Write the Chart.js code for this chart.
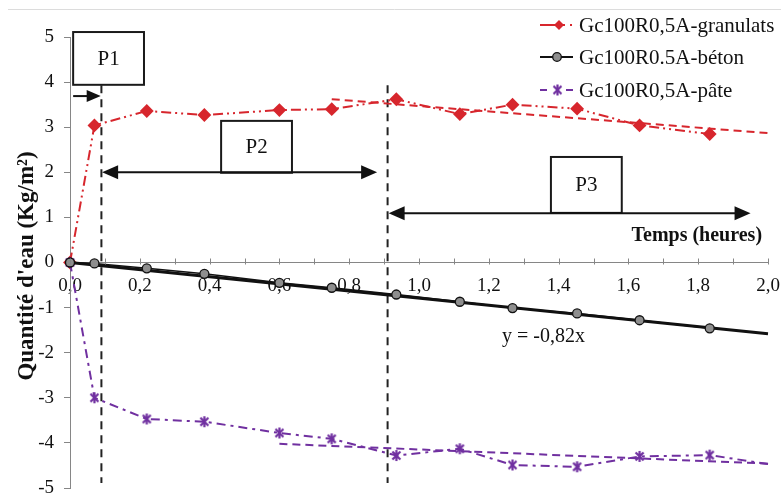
<!DOCTYPE html>
<html><head><meta charset="utf-8">
<script src="https://cdn.jsdelivr.net/npm/chart.js@4.4.1/dist/chart.umd.min.js"></script>
<style>html,body{margin:0;padding:0;background:#fff;}canvas{display:block;}</style>
</head><body>
<canvas id="c" width="781" height="502"></canvas>
<script>
// ---- data ----
const timeHours = [0, 0.07, 0.22, 0.385, 0.6, 0.75, 0.935, 1.117, 1.268, 1.453, 1.632, 1.833];
const granulats = [0, 3.04, 3.36, 3.27, 3.38, 3.40, 3.62, 3.29, 3.50, 3.41, 3.04, 2.85];
const beton     = [0, -0.02, -0.13, -0.25, -0.45, -0.56, -0.71, -0.87, -1.01, -1.13, -1.28, -1.46];
const pate      = [0, -3.00, -3.47, -3.53, -3.78, -3.91, -4.28, -4.13, -4.49, -4.53, -4.30, -4.27];
const pateEnd   = [2.0, -4.47];

const granulatsTrendX = [0.75, 2.0];
const granulatsTrendY = [3.62, 2.87];
const betonTrendX = [0, 2.0];
const betonTrendY = [0, -1.58];
const pateTrendX = [0.6, 2.0];
const pateTrendY = [-4.02, -4.46];

const seriesNames = ['Gc100R0,5A-granulats', 'Gc100R0.5A-béton', 'Gc100R0,5A-pâte'];
const xTickLabels = ['0,0','0,2','0,4','0,6','0,8','1,0','1,2','1,4','1,6','1,8','2,0'];
const yTickLabels = ['-5','-4','-3','-2','-1','0','1','2','3','4','5'];
const phaseBoundaries = [0.09, 0.91];
const phaseYRange = [3.93, -4.89];
const phaseNames = ['P1', 'P2', 'P3'];
const equationText = 'y = -0,82x';
const xTitle = 'Temps (heures)';
const yTitle = "Quantité d'eau (Kg/m²)";

// ---- styles / annotation placement (data units) ----
const RED = '#d7262d', PURPLE = '#7030a0', BLACK = '#111111', AXIS = '#868686';
const SERIF = "'Liberation Serif','Times New Roman',serif";
const TARGET_AREA = {left: 70, top: 37, right: 768, bottom: 488};
const annotationBoxes = [
  {x0: 0.009, x1: 0.212, y0: 5.11, y1: 3.94},
  {x0: 0.433, x1: 0.636, y0: 3.14, y1: 1.99},
  {x0: 1.378, x1: 1.581, y0: 2.34, y1: 1.10}
];
const annotationArrows = [
  {y: 3.69, x0: 0.009, x1: 0.088, both: false},
  {y: 2.0, x0: 0.092, x1: 0.88, both: true},
  {y: 1.09, x0: 0.913, x1: 1.95, both: true}
];

function makeStar(color) {
  const c = document.createElement('canvas');
  c.width = 13; c.height = 13;
  const g = c.getContext('2d');
  g.strokeStyle = color; g.lineWidth = 2.2;
  g.beginPath();
  g.moveTo(2.5, 2.5); g.lineTo(10.5, 10.5);
  g.moveTo(10.5, 2.5); g.lineTo(2.5, 10.5);
  g.moveTo(6.5, 1); g.lineTo(6.5, 12);
  g.stroke();
  return c;
}
const starImg = makeStar(PURPLE);

const pts = (xs, ys) => xs.map((x, i) => ({x: x, y: ys[i]}));

const datasets = [
  {label: seriesNames[0], data: pts(timeHours, granulats), borderColor: RED, backgroundColor: RED,
   borderWidth: 2, borderDash: [10,4,2,4,2,4], pointStyle: 'rectRot', pointRadius: 5.5, order: 4},
  {label: seriesNames[1], data: pts(timeHours, beton), borderColor: BLACK, backgroundColor: '#8e8e8e',
   borderWidth: 1.5, pointStyle: 'circle', pointRadius: 4.5, pointBorderWidth: 1.3, order: 1},
  {label: seriesNames[2], data: pts(timeHours.concat([pateEnd[0]]), pate.concat([pateEnd[1]])),
   borderColor: PURPLE, backgroundColor: PURPLE, borderWidth: 2, borderDash: [9,5,3,5],
   pointStyle: starImg, pointRadius: pate.map(() => 6).concat([0]), order: 3},
  {label: 'trend-g', data: pts(granulatsTrendX, granulatsTrendY), borderColor: RED, borderWidth: 2,
   borderDash: [8,5], pointRadius: 0, order: 5},
  {label: 'trend-b', data: pts(betonTrendX, betonTrendY), borderColor: BLACK, borderWidth: 3,
   pointRadius: 0, order: 2},
  {label: 'trend-p', data: pts(pateTrendX, pateTrendY), borderColor: PURPLE, borderWidth: 2,
   borderDash: [8,5], pointRadius: 0, order: 5},
  ...phaseBoundaries.map((bx, i) => ({label: 'phase' + i, data: pts([bx, bx], phaseYRange),
   borderColor: '#222', borderWidth: 2, borderDash: [8,6], pointRadius: 0, order: 6}))
].map(d => Object.assign({showLine: true, tension: 0, clip: false}, d));

function arrowHead(ctx, x, y, dir, len, half) {
  ctx.beginPath();
  ctx.moveTo(x, y);
  ctx.lineTo(x - dir * len, y - half);
  ctx.lineTo(x - dir * len, y + half);
  ctx.closePath();
  ctx.fill();
}

const decor = {
  id: 'decor',
  beforeDraw(chart) {
    const ctx = chart.ctx;
    ctx.save();
    ctx.fillStyle = '#fff';
    ctx.fillRect(0, 0, chart.width, chart.height);
    ctx.strokeStyle = '#dcdcdc'; ctx.lineWidth = 1;
    ctx.beginPath(); ctx.moveTo(8, 9.5); ctx.lineTo(chart.width, 9.5); ctx.stroke();
    ctx.restore();
  },
  afterDraw(chart) {
    const ctx = chart.ctx, xs = chart.scales.x, ys = chart.scales.y;
    ctx.save();
    // x tick marks (pointing up from the axis)
    const y0 = Math.round(ys.getPixelForValue(0)) + 0.5;
    ctx.strokeStyle = AXIS; ctx.lineWidth = 1;
    xs.ticks.forEach(t => {
      const px = Math.round(xs.getPixelForValue(t.value)) + 0.5;
      ctx.beginPath(); ctx.moveTo(px, y0 - 5); ctx.lineTo(px, y0 + 1); ctx.stroke();
    });
    // boxes
    ctx.lineWidth = 2; ctx.strokeStyle = '#1a1a1a';
    annotationBoxes.forEach((b, i) => {
      const l = xs.getPixelForValue(b.x0), r = xs.getPixelForValue(b.x1);
      const t = ys.getPixelForValue(b.y0), bt = ys.getPixelForValue(b.y1);
      ctx.fillStyle = '#fff';
      ctx.fillRect(l, t, r - l, bt - t);
      ctx.strokeRect(l, t, r - l, bt - t);
      ctx.fillStyle = '#111';
      ctx.font = '21px ' + SERIF;
      ctx.textAlign = 'center'; ctx.textBaseline = 'middle';
      ctx.fillText(phaseNames[i], (l + r) / 2, (t + bt) / 2 + 1);
    });
    // arrows
    ctx.fillStyle = '#111'; ctx.strokeStyle = '#111'; ctx.lineWidth = 2;
    annotationArrows.forEach((a, i) => {
      const l = xs.getPixelForValue(a.x0), r = xs.getPixelForValue(a.x1), y = ys.getPixelForValue(a.y);
      const len = i === 0 ? 14 : 16, half = i === 0 ? 6 : 7;
      ctx.beginPath();
      ctx.moveTo(a.both ? l + len - 2 : l, y);
      ctx.lineTo(r - len + 2, y);
      ctx.stroke();
      arrowHead(ctx, r, y, 1, len, half);
      if (a.both) arrowHead(ctx, l, y, -1, len, half);
    });
    // texts
    ctx.fillStyle = '#111';
    ctx.font = 'bold 20px ' + SERIF;
    ctx.textAlign = 'right'; ctx.textBaseline = 'middle';
    ctx.fillText(xTitle, xs.getPixelForValue(1.983), ys.getPixelForValue(0.6));
    ctx.font = '20px ' + SERIF;
    ctx.textAlign = 'left';
    ctx.fillText(equationText, xs.getPixelForValue(1.238), ys.getPixelForValue(-1.64));
    // y title
    ctx.save();
    ctx.translate(27, 266);
    ctx.rotate(-Math.PI / 2);
    ctx.font = 'bold 23px ' + SERIF;
    ctx.textAlign = 'center'; ctx.textBaseline = 'middle';
    ctx.fillText(yTitle, 0, 0);
    ctx.restore();
    // legend
    const rows = [25, 57, 90];
    ctx.font = '21px ' + SERIF; ctx.textAlign = 'left'; ctx.textBaseline = 'middle';
    seriesNames.forEach((n, i) => {
      const y = rows[i];
      ctx.lineWidth = 2;
      if (i === 0) {
        ctx.strokeStyle = RED; ctx.fillStyle = RED;
        ctx.beginPath(); ctx.moveTo(540, y); ctx.lineTo(565, y); ctx.stroke();
        ctx.beginPath(); ctx.moveTo(559, y - 5); ctx.lineTo(564, y); ctx.lineTo(559, y + 5); ctx.lineTo(554, y); ctx.closePath(); ctx.fill();
        ctx.fillRect(570, y - 1, 2, 2);
      } else if (i === 1) {
        ctx.strokeStyle = BLACK;
        ctx.beginPath(); ctx.moveTo(540, y); ctx.lineTo(573, y); ctx.stroke();
        ctx.fillStyle = '#8e8e8e'; ctx.lineWidth = 1.3;
        ctx.beginPath(); ctx.arc(557, y, 4.3, 0, Math.PI * 2); ctx.fill(); ctx.stroke();
      } else {
        ctx.strokeStyle = PURPLE;
        ctx.beginPath(); ctx.moveTo(540, y); ctx.lineTo(547, y); ctx.moveTo(566, y); ctx.lineTo(573, y); ctx.stroke();
        ctx.drawImage(starImg, 551, y - 6.5);
      }
      ctx.fillStyle = '#111';
      ctx.fillText(n, 579, y + 1);
    });
    ctx.restore();
  }
};

const layoutPadding = {left: 0, top: 37, right: 13, bottom: 14};

const chart = new Chart(document.getElementById('c'), {
  type: 'scatter',
  data: {datasets: datasets},
  options: {
    responsive: false,
    animation: false,
    events: [],
    layout: {padding: layoutPadding},
    plugins: {legend: {display: false}, tooltip: {enabled: false}},
    scales: {
      x: {
        type: 'linear', min: 0, max: 2, position: {y: 0},
        afterFit: s => { s.paddingLeft = 0; s.paddingRight = 0; },
        grid: {drawOnChartArea: false, drawTicks: false},
        border: {color: AXIS, width: 1},
        ticks: {
          stepSize: 0.1, autoSkip: false, maxRotation: 0, padding: 12,
          color: '#111', font: {family: SERIF, size: 19},
          callback: v => {
            const k = Math.round(v * 10);
            return k % 2 === 0 ? xTickLabels[k / 2] : '';
          }
        }
      },
      y: {
        type: 'linear', min: -5, max: 5, position: 'left',
        afterFit: s => { s.width = 70; s.paddingTop = 0; s.paddingBottom = 0; },
        grid: {drawOnChartArea: false, tickLength: 6, color: AXIS},
        border: {color: AXIS, width: 1},
        ticks: {
          stepSize: 0.5, padding: 10, color: '#111', font: {family: SERIF, size: 19},
          callback: v => Number.isInteger(v) ? yTickLabels[v + 5] : ''
        }
      }
    }
  },
  plugins: [decor]
});

// nudge the raw layout padding so the plot area lands where the reference has it
for (let k = 0; k < 3; k++) {
  const a = chart.chartArea;
  const dl = TARGET_AREA.left - a.left, dt = TARGET_AREA.top - a.top;
  const dr = a.right - TARGET_AREA.right, db = a.bottom - TARGET_AREA.bottom;
  if (Math.abs(dl) + Math.abs(dt) + Math.abs(dr) + Math.abs(db) < 0.5) break;
  const p = chart.config.options.layout.padding;
  p.left += dl; p.top += dt; p.right += dr; p.bottom += db;
  chart.update();
}
</script>
</body></html>
